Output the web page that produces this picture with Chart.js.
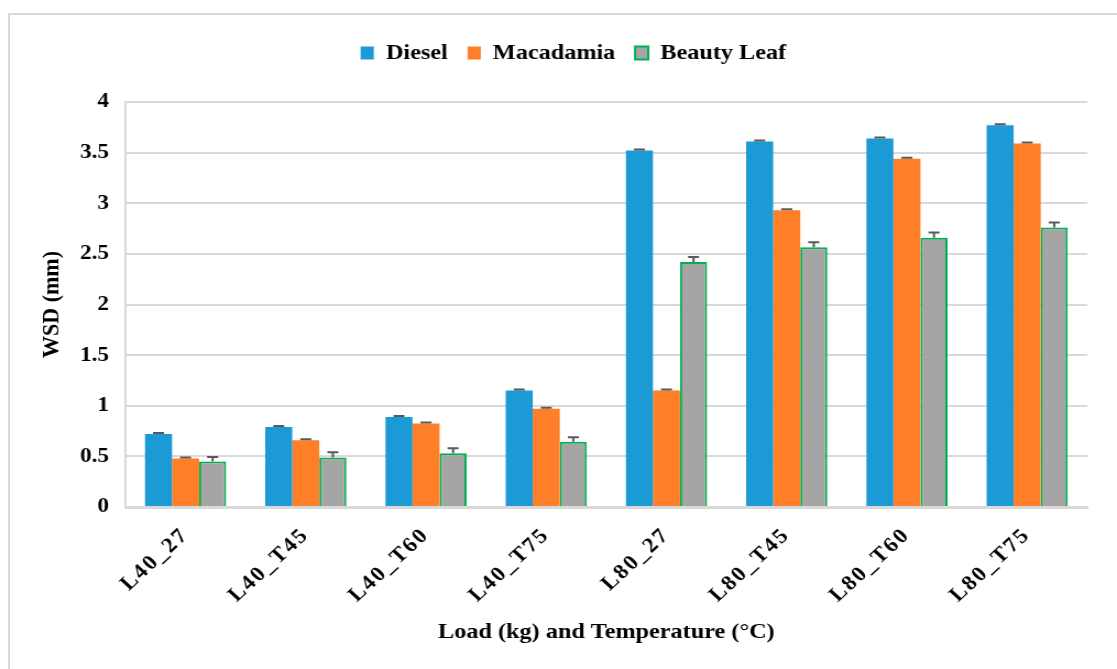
<!DOCTYPE html>
<html>
<head>
<meta charset="utf-8">
<script src="https://cdn.jsdelivr.net/npm/chart.js@4/dist/chart.umd.min.js"></script>
<style>
  body { margin: 0; background: #fff; overflow: hidden; }
  #frame { position: absolute; left: 8px; top: 13px; width: 1150px; height: 700px; border: 2px solid #d9d9d9; }
  #c { position: absolute; left: 0; top: 0; }
</style>
</head>
<body>
<div id="frame"></div>
<canvas id="c" width="1015" height="669" style="width:1117px;height:669px"></canvas>
<script>
const categories = ['L40_27', 'L40_T45', 'L40_T60', 'L40_T75', 'L80_27', 'L80_T45', 'L80_T60', 'L80_T75'];
const diesel = [0.72, 0.79, 0.89, 1.15, 3.52, 3.61, 3.64, 3.77];
const macadamia = [0.48, 0.66, 0.825, 0.97, 1.15, 2.93, 3.44, 3.59];
const beautyLeaf = [0.45, 0.49, 0.53, 0.645, 2.42, 2.565, 2.66, 2.76];
const dieselErr = [0.01, 0.01, 0.01, 0.01, 0.01, 0.01, 0.01, 0.01];
const macadamiaErr = [0.01, 0.01, 0.01, 0.01, 0.01, 0.01, 0.01, 0.01];
const beautyLeafErr = [0.045, 0.05, 0.05, 0.045, 0.05, 0.05, 0.05, 0.05];
const yTicks = [0, 0.5, 1, 1.5, 2, 2.5, 3, 3.5, 4];

const FONT = 'Liberation Serif, Times New Roman, serif';

// error bars drawn from the y scale
const errorBars = {
  id: 'errorBars',
  afterDatasetsDraw(chart) {
    const ctx = chart.ctx;
    const y = chart.scales.y;
    ctx.save();
    ctx.strokeStyle = '#595959';
    ctx.lineWidth = 2;
    chart.data.datasets.forEach((ds, i) => {
      chart.getDatasetMeta(i).data.forEach((bar, j) => {
        const top = y.getPixelForValue(ds.data[j] + ds.errors[j]);
        ctx.beginPath();
        ctx.moveTo(bar.x, bar.y);
        ctx.lineTo(bar.x, top);
        ctx.moveTo(bar.x - 5, top);
        ctx.lineTo(bar.x + 5, top);
        ctx.stroke();
      });
    });
    ctx.restore();
  }
};

// extra room under the legend
const legendGap = {
  id: 'legendGap',
  beforeInit(chart) {
    const fit = chart.legend.fit;
    chart.legend.fit = function () {
      fit.call(this);
      this.height += 28;
    };
  }
};

// wider letter spacing on the category labels
const spacedLabels = {
  id: 'spacedLabels',
  afterLayout(chart) {
    const s = chart.scales.x;
    if (s._spaced) return;
    const draw = s.drawLabels.bind(s);
    s.drawLabels = function (area) {
      this.ctx.save();
      this.ctx.letterSpacing = '2px';
      draw(area);
      this.ctx.restore();
    };
    s._spaced = true;
  }
};

new Chart(document.getElementById('c'), {
  type: 'bar',
  data: {
    labels: categories,
    datasets: [
      { label: 'Diesel', data: diesel, errors: dieselErr, backgroundColor: '#1c9ad6', borderWidth: 0 },
      { label: 'Macadamia', data: macadamia, errors: macadamiaErr, backgroundColor: '#fe7f27', borderWidth: 0 },
      { label: 'Beauty Leaf', data: beautyLeaf, errors: beautyLeafErr, backgroundColor: '#a5a5a5', borderColor: '#00b050', borderWidth: 2 }
    ]
  },
  options: {
    responsive: false,
    animation: false,
    devicePixelRatio: 1,
    layout: { padding: { left: 54, right: 27, top: 24, bottom: 10 } },
    datasets: { bar: { categoryPercentage: 0.675, barPercentage: 1.0 } },
    plugins: {
      legend: {
        position: 'top',
        labels: {
          boxWidth: 12,
          boxHeight: 13,
          padding: 18,
          color: '#000',
          font: { family: FONT, size: 22, weight: 'bold' }
        }
      },
      tooltip: { enabled: false }
    },
    scales: {
      x: {
        grid: { display: false },
        border: { color: '#d9d9d9', width: 3 },
        ticks: {
          color: '#000',
          minRotation: 45,
          maxRotation: 45,
          padding: 8,
          font: { family: FONT, size: 21, weight: 'bold' }
        },
        title: {
          display: true,
          text: 'Load (kg) and Temperature (°C)',
          color: '#000',
          padding: { top: 13, bottom: 13 },
          font: { family: FONT, size: 22, weight: 'bold' }
        },
        afterFit(s) { s.height = 152; }
      },
      y: {
        min: 0,
        max: 4,
        afterBuildTicks(axis) { axis.ticks = yTicks.map(v => ({ value: v })); },
        grid: { color: '#d9d9d9', lineWidth: 2, drawTicks: false },
        border: { color: '#d9d9d9', width: 2 },
        ticks: {
          color: '#000',
          padding: 15,
          callback: v => String(v),
          font: { family: FONT, size: 21, weight: 'bold' }
        },
        title: {
          display: true,
          text: 'WSD (mm)',
          color: '#000',
          padding: { top: -20, bottom: -20 },
          font: { family: FONT, size: 22, weight: 'bold' }
        },
        afterFit(s) { s.width = 60; }
      }
    }
  },
  plugins: [errorBars, legendGap, spacedLabels]
});
</script>
</body>
</html>
